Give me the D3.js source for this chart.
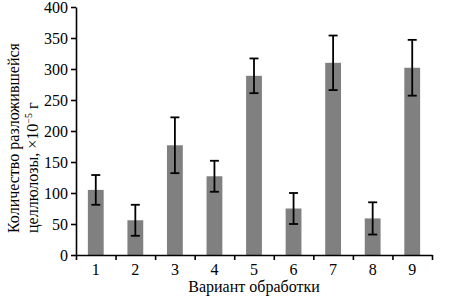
<!DOCTYPE html>
<html>
<head>
<meta charset="utf-8">
<script src="https://cdn.jsdelivr.net/npm/d3@7"></script>
<style>
	body { margin: 0; background: #fff; }
	svg text { font-family: "Liberation Serif", "Times New Roman", "DejaVu Serif", serif !important; fill: #000; }
</style>
</head>
<body>
<svg id="chart" width="456" height="303"></svg>
<script>
// values
var variants = ["1", "2", "3", "4", "5", "6", "7", "8", "9"];
var means = [105, 56, 177, 127, 289, 75, 310, 59, 302];
var errors = [24, 25, 45, 25, 28, 25, 44, 26, 45];
var yTicks = [0, 50, 100, 150, 200, 250, 300, 350, 400];

var svg = d3.select("#chart");
var plotLeft = 76, plotRight = 432, plotTop = 7, plotBottom = 255;

var x = d3.scaleBand()
			.domain(variants)
			.range([plotLeft, plotRight])
			.paddingInner(0.6)
			.paddingOuter(0.3);
var xTicks = d3.scaleLinear().domain([0, 9]).range([plotLeft, plotRight]);
var y = d3.scaleLinear()
			.domain([0, 400])
			.range([plotBottom, plotTop]);

var data = variants.map(function(v, i) { return { v: v, m: means[i], e: errors[i] }; });

// bars
svg.append("g").selectAll("rect")
	.data(data)
	.enter()
	.append("rect")
		.attr("x", function(d) { return x(d.v); })
		.attr("y", function(d) { return y(d.m); })
		.attr("width", x.bandwidth())
		.attr("height", function(d) { return plotBottom - y(d.m); })
		.style("fill", "#808080");

// error bars
var err = svg.append("g").selectAll("g")
	.data(data)
	.enter()
	.append("g")
		.attr("transform", function(d) { return "translate(" + (x(d.v) + x.bandwidth() / 2) + ",0)"; })
		.style("stroke", "#000")
		.style("stroke-width", 1.8);
err.append("line")
	.attr("y1", function(d) { return y(d.m + d.e); })
	.attr("y2", function(d) { return y(d.m - d.e); });
err.append("line")
	.attr("x1", -4.5).attr("x2", 4.5)
	.attr("y1", function(d) { return y(d.m + d.e); })
	.attr("y2", function(d) { return y(d.m + d.e); });
err.append("line")
	.attr("x1", -4.5).attr("x2", 4.5)
	.attr("y1", function(d) { return y(d.m - d.e); })
	.attr("y2", function(d) { return y(d.m - d.e); });

// y axis
var yAxis = svg.append("g")
	.attr("transform", "translate(" + plotLeft + ",0)")
	.call(d3.axisLeft(y).tickValues(yTicks).tickSize(5).tickSizeOuter(0));
yAxis.selectAll("text").style("font-size", "16px").attr("x", -8);

// x axis: ticks sit between the bars
svg.append("g")
	.attr("transform", "translate(0," + plotBottom + ")")
	.call(d3.axisBottom(xTicks).ticks(9).tickSize(5).tickSizeOuter(0).tickFormat(""));
svg.append("g").selectAll("text")
	.data(variants)
	.enter()
	.append("text")
		.attr("x", function(d) { return x(d) + x.bandwidth() / 2; })
		.attr("y", plotBottom + 20)
		.attr("text-anchor", "middle")
		.style("font-size", "16px")
		.text(function(d) { return d; });

svg.selectAll(".domain, .tick line").style("stroke", "#000").style("stroke-width", 1.6);

// titles
svg.append("text")
	.attr("x", 254).attr("y", 292)
	.attr("text-anchor", "middle")
	.style("font-size", "16px")
	.text("Вариант обработки");

var yt = svg.append("text")
	.attr("transform", "translate(0,233) rotate(-90)")
	.attr("text-anchor", "start")
	.style("font-size", "16px");
yt.append("tspan").attr("x", 0).attr("y", 19).text("Количество разложившейся");
var l2 = yt.append("tspan").attr("x", 0).attr("y", 38);
l2.append("tspan").text("целлюлозы, ×10");
l2.append("tspan").attr("dy", -6).style("font-size", "10px").text("−5");
l2.append("tspan").attr("dy", 6).text(" г");
</script>
</body>
</html>
